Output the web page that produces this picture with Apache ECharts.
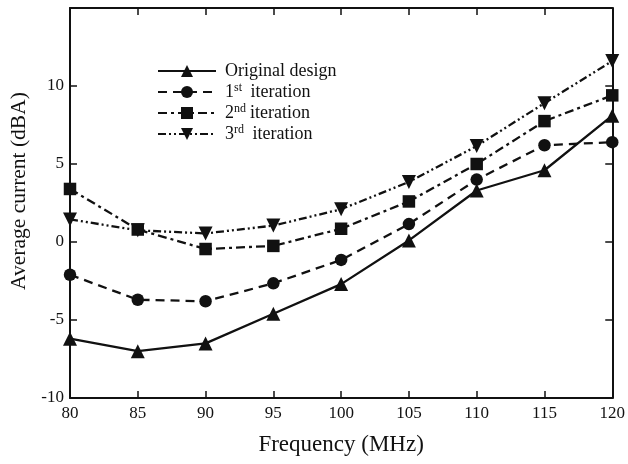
<!DOCTYPE html>
<html><head><meta charset="utf-8">
<script src="https://cdn.jsdelivr.net/npm/echarts@6/dist/echarts.min.js"></script>
<style>html,body{margin:0;padding:0;background:#fff}#c{width:628px;height:464px}</style>
</head><body><div id="c"></div>
<script>
const freq = [80, 85, 90, 95, 100, 105, 110, 115, 120];
const original = [-6.2, -7.0, -6.5, -4.6, -2.7, 0.1, 3.3, 4.6, 8.1];
const iter1 = [-2.1, -3.7, -3.8, -2.65, -1.15, 1.15, 4.0, 6.2, 6.4];
const iter2 = [3.4, 0.8, -0.45, -0.25, 0.85, 2.6, 5.0, 7.75, 9.4];
const iter3 = [1.45, 0.75, 0.55, 1.05, 2.1, 3.85, 6.15, 8.9, 11.6];
const names = ['Original design', '1st iteration', '2nd iteration', '3rd iteration'];

const font = 'Liberation Serif';
const pair = arr => freq.map((f, i) => [f, arr[i]]);
function mk(name, data, symbol, dash, rotate) {
  return {
    name, type: 'line', data: pair(data), symbol, symbolSize: symbol === 'triangle' ? 14 : 12.5,
    symbolRotate: rotate || 0,
    itemStyle: {color: '#111'},
    lineStyle: {color: '#111', width: 2.3, type: dash},
    z: 3
  };
}
const chart = echarts.init(document.getElementById('c'));
const axisCommon = {
  axisLine: {onZero: false, lineStyle: {color: '#111', width: 2}},
  axisTick: {inside: true, length: 7, lineStyle: {color: '#111', width: 1.5}},
  splitLine: {show: false}
};
chart.setOption({
  animation: false,
  backgroundColor: '#fff',
  grid: {left: 69, right: 15, top: 8, bottom: 66},
  legend: {
    left: 152, top: 57, orient: 'vertical', itemWidth: 58, itemHeight: 15, itemGap: 2,
    data: names,
    textStyle: {fontFamily: font, fontSize: 18, color: '#111', padding: [0,0,0,4],
      rich: {sup: {fontFamily: font, fontSize: 12, verticalAlign: 'top', lineHeight: 12, padding: [0,4,6,0], color: '#111'},
             t: {fontFamily: font, fontSize: 18, lineHeight: 20, color: '#111'}}},
    formatter: n => {
      if (n === names[1]) return '{t|1}{sup|st}{t| iteration}';
      if (n === names[2]) return '{t|2}{sup|nd}{t|iteration}';
      if (n === names[3]) return '{t|3}{sup|rd}{t| iteration}';
      return '{t|' + n + '}';
    }
  },
  xAxis: [
    Object.assign({type: 'value', min: 80, max: 120, interval: 5, position: 'bottom',
      name: 'Frequency (MHz)', nameLocation: 'middle', nameGap: 35,
      nameTextStyle: {fontFamily: font, fontSize: 23, color: '#111'},
      axisLabel: {fontFamily: font, fontSize: 17, color: '#111', margin: 7}}, axisCommon),
    Object.assign({type: 'value', min: 80, max: 120, interval: 5, position: 'top',
      axisLabel: {show: false}}, axisCommon)
  ],
  yAxis: [
    Object.assign({type: 'value', min: -10, max: 15, interval: 5, position: 'left',
      name: 'Average current (dBA)', nameLocation: 'middle', nameGap: 40,
      nameTextStyle: {fontFamily: font, fontSize: 21.5, color: '#111', padding: [0, 0, 0, 24]},
      axisLabel: {fontFamily: font, fontSize: 17, color: '#111', margin: 6,
        formatter: v => v === 15 ? '' : String(v)}}, axisCommon),
    Object.assign({type: 'value', min: -10, max: 15, interval: 5, position: 'right',
      axisLabel: {show: false}}, axisCommon)
  ],
  series: [
    mk(names[0], original, 'triangle', 'solid'),
    mk(names[1], iter1, 'circle', [9, 6]),
    mk(names[2], iter2, 'rect', [9, 4, 3, 4]),
    mk(names[3], iter3, 'triangle', [8, 3, 2, 3, 2, 3], 180)
  ]
});
</script></body></html>
